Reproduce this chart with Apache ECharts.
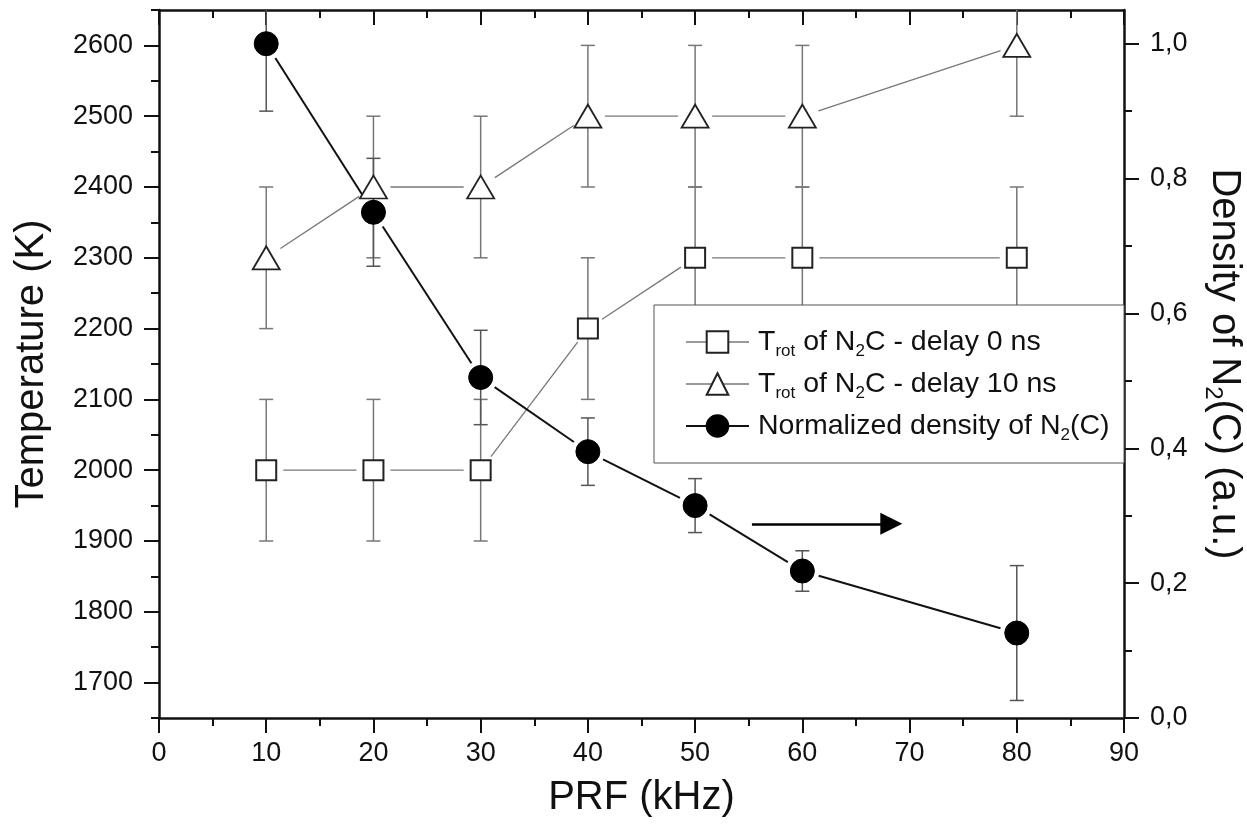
<!DOCTYPE html>
<html><head><meta charset="utf-8">
<script src="https://cdn.jsdelivr.net/npm/echarts@6/dist/echarts.min.js"></script>
<style>html,body{margin:0;padding:0;background:#fff}#c{width:1247px;height:829px}</style>
</head><body><div id="c"></div>
<script>
// ---- data ----
const prf = [10, 20, 30, 40, 50, 60, 80];
const tDelay0 = [2000, 2000, 2000, 2200, 2300, 2300, 2300];
const tDelay0Err = [100, 100, 100, 100, 100, 100, 100];
const tDelay10 = [2300, 2400, 2400, 2500, 2500, 2500, 2600];
const tDelay10Err = [100, 100, 100, 100, 100, 100, 100];
const density = [1.0, 0.75, 0.505, 0.395, 0.315, 0.218, 0.126];
const densityErr = [0.1, 0.08, 0.07, 0.05, 0.04, 0.03, 0.10];
const seriesNames = ['Trot of N2C - delay 0 ns', 'Trot of N2C - delay 10 ns', 'Normalized density of N2(C)'];
const legendLabels = ['T{sub|rot} of N{sub|2}C - delay 0 ns', 'T{sub|rot} of N{sub|2}C - delay 10 ns', 'Normalized density of N{sub|2}(C)'];
const tempLabels = [1700, 1800, 1900, 2000, 2100, 2200, 2300, 2400, 2500, 2600];
const tempMinorTicks = [1650, 1750, 1850, 1950, 2050, 2150, 2250, 2350, 2450, 2550, 2650];
const densLabels = [0, 0.2, 0.4, 0.6, 0.8, 1.0];
const densMinorTicks = [0.1, 0.3, 0.5, 0.7, 0.9];
const arrowFrom = [55.3, 0.288];
const arrowTo = [68.3, 0.288];

const FONT = 'Liberation Sans, Arial, Helvetica, sans-serif';
const chart = echarts.init(document.getElementById('c'), null, {renderer: 'canvas'});

function errSeries(ys, errs, yAxisIndex, color) {
  return {
    type: 'custom', xAxisIndex: 0, yAxisIndex: yAxisIndex, z: 1, silent: true,
    data: prf.map((x, i) => [x, ys[i] - errs[i], ys[i] + errs[i]]),
    encode: {x: 0, y: [1, 2]},
    renderItem(params, api) {
      const x = api.value(0);
      const lo = api.coord([x, api.value(1)]);
      const hi = api.coord([x, api.value(2)]);
      const cs = params.coordSys;
      const top = cs.y, bot = cs.y + cs.height;
      const yHi = Math.max(hi[1], top), yLo = Math.min(lo[1], bot);
      const st = {stroke: color, lineWidth: 1.5};
      const ch = [{type: 'line', shape: {x1: lo[0], y1: yLo, x2: lo[0], y2: yHi}, style: st}];
      if (hi[1] >= top) ch.push({type: 'line', shape: {x1: hi[0] - 7, y1: hi[1], x2: hi[0] + 7, y2: hi[1]}, style: st});
      if (lo[1] <= bot) ch.push({type: 'line', shape: {x1: lo[0] - 7, y1: lo[1], x2: lo[0] + 7, y2: lo[1]}, style: st});
      return {type: 'group', children: ch};
    }
  };
}

// connecting segments that stop short of the markers (Origin style gaps)
function segSeries(ys, yAxisIndex, color, width, gap, z) {
  const data = [];
  for (let i = 0; i < prf.length - 1; i++) data.push([prf[i], ys[i], prf[i + 1], ys[i + 1]]);
  return {
    type: 'custom', xAxisIndex: 0, yAxisIndex: yAxisIndex, z: z, silent: true,
    data: data,
    encode: {x: [0, 2], y: [1, 3]},
    renderItem(params, api) {
      const p1 = api.coord([api.value(0), api.value(1)]);
      const p2 = api.coord([api.value(2), api.value(3)]);
      const dx = p2[0] - p1[0], dy = p2[1] - p1[1];
      const len = Math.sqrt(dx * dx + dy * dy);
      if (len <= 2 * gap) return null;
      const ux = dx / len, uy = dy / len;
      return {type: 'line',
        shape: {x1: p1[0] + ux * gap, y1: p1[1] + uy * gap, x2: p2[0] - ux * gap, y2: p2[1] - uy * gap},
        style: {stroke: color, lineWidth: width}};
    }
  };
}

const axisLineStyle = {color: '#111', width: 2.5};
const tickStyle = {color: '#111', width: 2};
const labelStyle = {color: '#111', fontSize: 27, fontFamily: FONT};
const titleStyle = {color: '#111', fontSize: 40, fontFamily: FONT};
const gridRect = {left: 159, top: 10, right: 123, bottom: 111, containLabel: false, outerBoundsMode: 'none'};

const option = {
  animation: false,
  backgroundColor: '#fff',
  grid: [Object.assign({}, gridRect), Object.assign({}, gridRect)],
  graphic: [{
    type: 'rect', z: 5, silent: true,
    shape: {x: 654, y: 305, width: 470, height: 158},
    style: {fill: '#fff', stroke: '#555', lineWidth: 1}
  }],
  xAxis: [
    {
      type: 'value', gridIndex: 0, position: 'bottom', min: 0, max: 90, interval: 10,
      name: 'PRF (kHz)', nameLocation: 'middle', nameGap: 60,
      nameTextStyle: titleStyle,
      axisLine: {show: true, onZero: false, lineStyle: axisLineStyle},
      axisTick: {show: true, inside: false, length: 15, lineStyle: tickStyle},
      minorTick: {show: true, splitNumber: 2, length: 8, lineStyle: tickStyle},
      axisLabel: Object.assign({margin: 22}, labelStyle),
      splitLine: {show: false}
    },
    {
      type: 'value', gridIndex: 0, position: 'top', min: 0, max: 90, interval: 10,
      axisLine: {show: true, onZero: false, lineStyle: axisLineStyle},
      axisTick: {show: true, inside: true, length: 15, lineStyle: tickStyle},
      minorTick: {show: true, splitNumber: 2, length: 8, lineStyle: tickStyle},
      axisLabel: {show: false},
      splitLine: {show: false}
    },
    {
      type: 'value', gridIndex: 1, position: 'bottom', min: 0, max: 90, interval: 10, show: false
    }
  ],
  yAxis: [
    {
      type: 'value', gridIndex: 0, position: 'left', min: 1650, max: 2650, interval: 50,
      name: 'Temperature (K)', nameLocation: 'middle', nameGap: 107,
      nameTextStyle: titleStyle,
      axisLine: {show: true, onZero: false, lineStyle: axisLineStyle},
      axisTick: {show: true, inside: false, length: 15, lineStyle: tickStyle, customValues: tempLabels},
      axisLabel: Object.assign({margin: 26, customValues: tempLabels, formatter: v => String(v)}, labelStyle),
      splitLine: {show: false}
    },
    {
      type: 'value', gridIndex: 0, position: 'right', min: 0, max: 1.05, interval: 0.05,
      name: 'Density of N{sub|2}(C) (a.u.)', nameLocation: 'middle', nameGap: 77, nameRotate: -90,
      nameTextStyle: Object.assign({lineHeight: 46,
        rich: {sub: {fontSize: 24, fontFamily: FONT, color: '#111', verticalAlign: 'bottom', lineHeight: 23}}}, titleStyle),
      axisLine: {show: true, onZero: false, lineStyle: axisLineStyle},
      axisTick: {show: true, inside: false, length: 15, lineStyle: tickStyle, customValues: densLabels},
      axisLabel: Object.assign({margin: 26, customValues: densLabels,
        formatter: v => v.toFixed(1).replace('.', ',')}, labelStyle),
      splitLine: {show: false}
    },
    {
      type: 'value', gridIndex: 1, position: 'left', min: 1650, max: 2650, interval: 50,
      axisLine: {show: false},
      axisTick: {show: true, inside: false, length: 8, lineStyle: tickStyle, customValues: tempMinorTicks},
      axisLabel: {show: false}, splitLine: {show: false}
    },
    {
      type: 'value', gridIndex: 1, position: 'right', min: 0, max: 1.05, interval: 0.05,
      axisLine: {show: false},
      axisTick: {show: true, inside: false, length: 8, lineStyle: tickStyle, customValues: densMinorTicks},
      axisLabel: {show: false}, splitLine: {show: false}
    }
  ],
  legend: {
    orient: 'vertical', left: 654, top: 305, z: 10,
    data: [
      {name: seriesNames[0], lineStyle: {color: '#777', width: 1.3, opacity: 1}},
      {name: seriesNames[1], lineStyle: {color: '#777', width: 1.3, opacity: 1}},
      {name: seriesNames[2], lineStyle: {color: '#111', width: 2, opacity: 1}}
    ],
    itemWidth: 63, itemHeight: 27, itemGap: 6,
    padding: [19, 12, 19, 31],
    backgroundColor: 'transparent', borderWidth: 0,
    selectedMode: false,
    formatter: name => legendLabels[seriesNames.indexOf(name)],
    textStyle: {color: '#111', fontSize: 28.5, fontFamily: FONT, lineHeight: 36, padding: [0, 0, 0, 4],
      rich: {sub: {fontSize: 17, fontFamily: FONT, color: '#111', verticalAlign: 'bottom', lineHeight: 17}}}
  },
  series: [
    errSeries(tDelay0, tDelay0Err, 0, '#777'),
    errSeries(tDelay10, tDelay10Err, 0, '#777'),
    errSeries(density, densityErr, 1, '#555'),
    segSeries(tDelay0, 0, '#777', 1.3, 17, 2),
    segSeries(tDelay10, 0, '#777', 1.3, 17, 2),
    segSeries(density, 1, '#111', 2, 17, 3),
    {
      name: seriesNames[0], type: 'line', xAxisIndex: 0, yAxisIndex: 0, z: 3,
      data: prf.map((x, i) => [x, tDelay0[i]]),
      symbol: 'rect', symbolSize: 20,
      itemStyle: {color: '#fff', borderColor: '#222', borderWidth: 2},
      lineStyle: {color: '#777', width: 1.3, opacity: 0}
    },
    {
      name: seriesNames[1], type: 'line', xAxisIndex: 0, yAxisIndex: 0, z: 3,
      data: prf.map((x, i) => [x, tDelay10[i]]),
      symbol: 'triangle', symbolSize: [27, 23],
      itemStyle: {color: '#fff', borderColor: '#222', borderWidth: 1.8},
      lineStyle: {color: '#777', width: 1.3, opacity: 0}
    },
    {
      name: seriesNames[2], type: 'line', xAxisIndex: 0, yAxisIndex: 1, z: 4,
      data: prf.map((x, i) => [x, density[i]]),
      symbol: 'circle', symbolSize: 24,
      itemStyle: {color: '#000', borderColor: '#000', borderWidth: 1},
      lineStyle: {color: '#111', width: 2, opacity: 0},
      markLine: {
        silent: true, symbol: ['none', 'triangle'], symbolSize: 22,
        label: {show: false},
        lineStyle: {color: '#000', width: 2.5, type: 'solid', opacity: 1},
        data: [[{coord: arrowFrom}, {coord: arrowTo}]]
      }
    }
  ]
};
chart.setOption(option);
</script>
</body></html>
